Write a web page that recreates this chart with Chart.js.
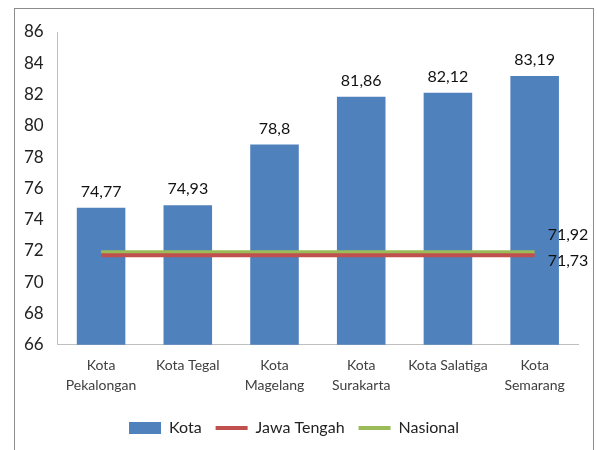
<!DOCTYPE html>
<html>
<head>
<meta charset="utf-8">
<script src="https://cdn.jsdelivr.net/npm/chart.js@4"></script>
<style>
  html, body { margin: 0; padding: 0; background: #fff; }
  #wrap { width: 597px; height: 450px; position: relative; }
</style>
</head>
<body>
<div id="wrap"><canvas id="hdiChart" width="597" height="450"></canvas></div>
<script>
const labels = [['Kota', 'Pekalongan'], 'Kota Tegal', ['Kota', 'Magelang'], ['Kota', 'Surakarta'], 'Kota Salatiga', ['Kota', 'Semarang']];
const kotaValues = [74.77, 74.93, 78.8, 81.86, 82.12, 83.19];
const jawaTengah = [71.73, 71.73, 71.73, 71.73, 71.73, 71.73];
const nasional = [71.92, 71.92, 71.92, 71.92, 71.92, 71.92];
const yTicks = [66, 68, 70, 72, 74, 76, 78, 80, 82, 84, 86];

const fmt = v => String(v).replace('.', ',');
const fontFamily = 'Lato, "Open Sans", sans-serif';

// frame around the whole chart + value labels
const labelPlugin = {
  id: 'valueLabels',
  beforeDraw(chart) {
    const c = chart.ctx;
    c.save();
    c.strokeStyle = '#8c8c8c';
    c.lineWidth = 1;
    c.strokeRect(14.5, 8.5, 579, 470);
    c.restore();
  },
  afterDatasetsDraw(chart) {
    const c = chart.ctx;
    c.save();
    c.font = '16px ' + fontFamily;
    c.fillStyle = '#111';
    c.textAlign = 'center';
    c.textBaseline = 'bottom';
    chart.getDatasetMeta(0).data.forEach((bar, i) => {
      c.fillText(fmt(kotaValues[i]), bar.x, bar.y - 8);
    });
    c.textAlign = 'left';
    c.textBaseline = 'middle';
    const last = kotaValues.length - 1;
    const pN = chart.getDatasetMeta(2).data[last];
    const pJ = chart.getDatasetMeta(1).data[last];
    c.fillText(fmt(nasional[last]), pN.x + 13, pN.y - 17);
    c.fillText(fmt(jawaTengah[last]), pJ.x + 13, pJ.y + 6);
    c.restore();
  }
};

const ctx = document.getElementById('hdiChart').getContext('2d');
new Chart(ctx, {
  data: {
    labels: labels,
    datasets: [
      {
        type: 'bar',
        label: 'Kota',
        data: kotaValues,
        backgroundColor: '#4F81BD',
        barPercentage: 0.56,
        categoryPercentage: 1,
        pointStyle: 'rect',
        order: 3
      },
      {
        type: 'line',
        label: 'Jawa Tengah',
        data: jawaTengah,
        borderColor: '#C0504D',
        backgroundColor: '#C0504D',
        borderWidth: 4,
        pointRadius: 0,
        pointStyle: 'line',
        order: 1
      },
      {
        type: 'line',
        label: 'Nasional',
        data: nasional,
        borderColor: '#9BBB59',
        backgroundColor: '#9BBB59',
        borderWidth: 4,
        pointRadius: 0,
        pointStyle: 'line',
        order: 2
      }
    ]
  },
  options: {
    responsive: false,
    animation: false,
    layout: { padding: { left: 10, right: 19, top: 32, bottom: 4 } },
    plugins: {
      legend: {
        position: 'bottom',
        labels: {
          usePointStyle: true,
          pointStyleWidth: 32,
          boxHeight: 12,
          padding: 14,
          color: '#222',
          font: { family: fontFamily, size: 16 },
          sort: (a, b) => a.datasetIndex - b.datasetIndex
        }
      },
      tooltip: { enabled: false }
    },
    scales: {
      x: {
        grid: { display: false, drawTicks: false },
        border: { display: true, color: '#bfbfbf' },
        ticks: { color: '#404040', font: { family: fontFamily, size: 14, lineHeight: 1.4 }, padding: 11, maxRotation: 0 }
      },
      y: {
        min: 66,
        max: 86,
        grid: { display: false, drawTicks: false },
        border: { display: true, color: '#bfbfbf' },
        afterBuildTicks: axis => { axis.ticks = yTicks.map(v => ({ value: v })); },
        ticks: { color: '#222', font: { family: fontFamily, size: 17 }, padding: 14 }
      }
    }
  },
  plugins: [labelPlugin]
});
</script>
</body>
</html>
